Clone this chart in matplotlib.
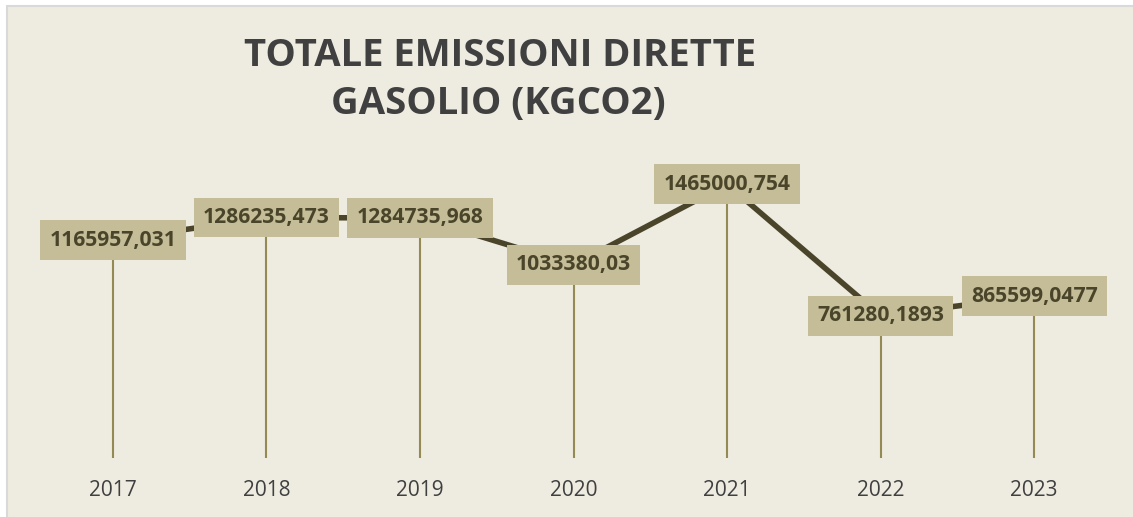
import matplotlib.pyplot as plt
from matplotlib.patches import Rectangle

# data
years = ['2017', '2018', '2019', '2020', '2021', '2022', '2023']
emissions = [1165957.031, 1286235.473, 1284735.968, 1033380.03,
             1465000.754, 761280.1893, 865599.0477]

bg = '#EEEBE0'
box_col = '#C4BD97'
line_col = '#4A452A'
drop_col = '#948A54'
title_col = '#404040'

W, H = 1133, 517
fig = plt.figure(figsize=(W / 100, H / 100), dpi=100, facecolor='white')

# chart area with light grey border (cropped on the right/bottom)
fig.patches.append(Rectangle((7 / W, -0.2), 1.2, 1.2 - 6 / H, transform=fig.transFigure,
                             facecolor=bg, edgecolor='#D9D9D9', linewidth=1.5, zorder=-5))

# plot area in pixels: left 36, right 1111, bottom 458, top 159
ax = fig.add_axes([36 / W, 1 - 458 / H, (1111 - 36) / W, (458 - 159) / H])
ax.set_facecolor('none')

x = list(range(len(years)))
ax.vlines(x, 0, emissions, color=drop_col, linewidth=1.5, zorder=1)
ax.plot(x, emissions, color=line_col, linewidth=4, solid_capstyle='butt', zorder=2)

for xi, v in zip(x, emissions):
    ax.text(xi, v, repr(v).replace('.', ','), ha='center', va='center',
            fontsize=15.2, fontweight='bold', family='Open Sans', color=line_col, zorder=3,
            bbox=dict(boxstyle='square,pad=0.44', facecolor=box_col, edgecolor='none'))

ax.set_xlim(-0.5, len(years) - 0.5)
ax.set_ylim(0, 1600000)
ax.set_xticks(x)
ax.set_xticklabels(years, family='Open Sans', fontsize=15, color=title_col)
ax.tick_params(axis='x', length=0, pad=16)
ax.set_yticks([])
for s in ax.spines.values():
    s.set_visible(False)

fig.text(500 / W, 1 - 56 / H, 'TOTALE EMISSIONI DIRETTE', ha='center', va='center',
         fontsize=27.5, fontweight='bold', family='Open Sans', color=title_col)
fig.text(498 / W, 1 - 104 / H, 'GASOLIO (KGCO2)', ha='center', va='center',
         fontsize=27.5, fontweight='bold', family='Open Sans', color=title_col)

fig.savefig('out.png', dpi=100, facecolor=fig.get_facecolor())
